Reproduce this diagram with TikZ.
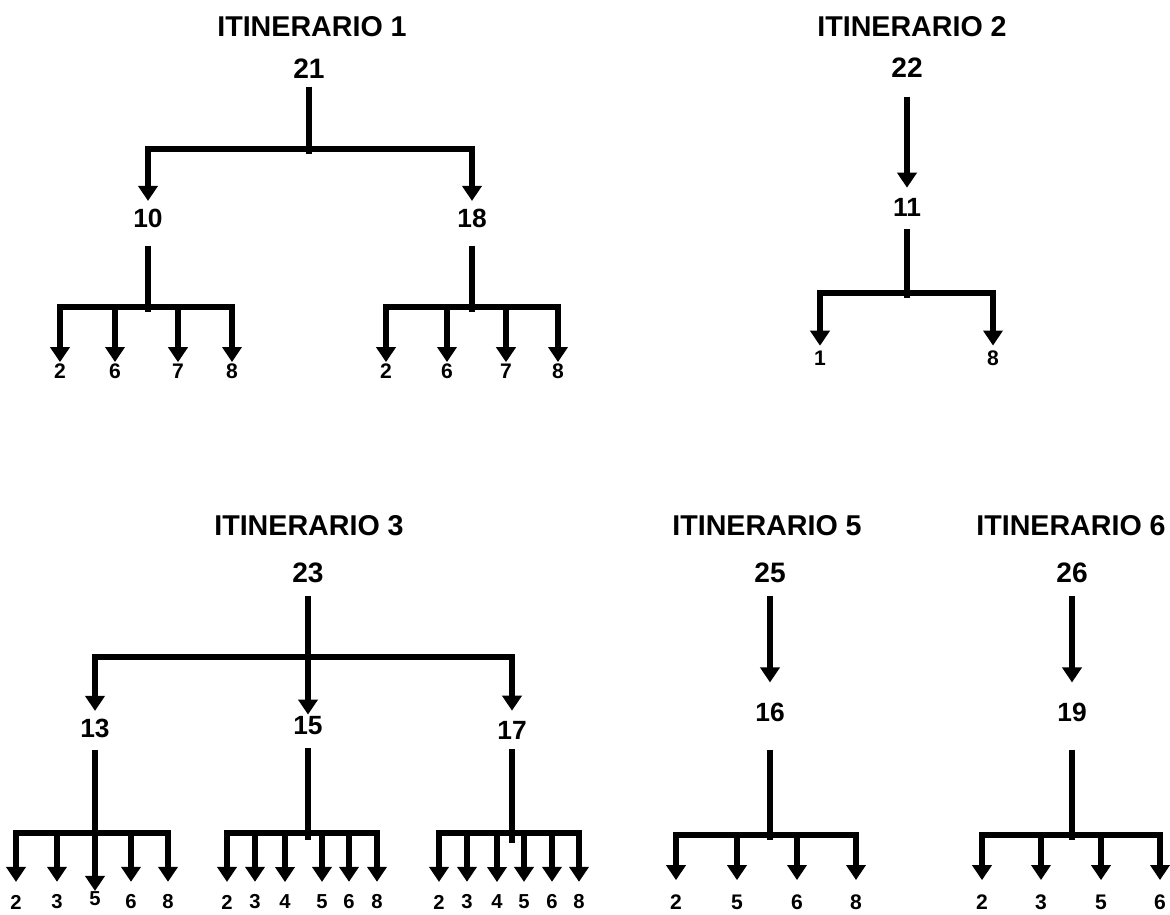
\documentclass[tikz,border=0pt]{standalone}
\usepackage{fontspec}
\setmainfont{Liberation Sans}
\usetikzlibrary{arrows.meta}

\begin{document}
\begin{tikzpicture}[>={Triangle[width=0.38cm,length=0.3cm]},x=0.02cm,y=-0.02cm,line width=3.2pt,
    title/.style={font=\bfseries\fontsize{16.3}{19}\selectfont},
    root/.style={font=\bfseries\fontsize{16}{19}\selectfont,inner sep=2.8pt},
    mid/.style={font=\bfseries\fontsize{15}{18}\selectfont,inner sep=2.8pt},
    leaf/.style={font=\bfseries\fontsize{12}{14}\selectfont,inner sep=0pt,outer sep=#1},
    small/.style={font=\bfseries\fontsize{11.5}{13}\selectfont}
    ]
\useasboundingbox (0,0) rectangle (1170,915);

\node[title] (t1) at (312,27) {ITINERARIO 1};
\node[root] (n21) at (309,69) {21};
\node[mid] (n10) at (148,218) {10};
\node[mid] (n18) at (472,218) {18};
\coordinate (j21) at (309,149);
\coordinate (j10) at (148,307);
\coordinate (j18) at (472,307);
\draw (n21) -- ([yshift=-0.1cm]j21);
\draw[->] (j21) -| (n10);
\draw[->] (j21) -| (n18);
\draw[shorten <=0.21cm] (n10) -- ([yshift=-0.1cm]j10);
\draw[shorten <=0.21cm] (n18) -- ([yshift=-0.1cm]j18);
\foreach \x/\t [count=\i] in {60/2,115/6,178/7,232/8}
    {\node[leaf=0.03cm] (a\i) at (\x,371) {\t}; \draw[->] (j10) -| (a\i);}
\foreach \x/\t [count=\i] in {386/2,447/6,506/7,558/8}
    {\node[leaf=0.03cm] (b\i) at (\x,371) {\t}; \draw[->] (j18) -| (b\i);}

\node[title] (t2) at (912,27) {ITINERARIO 2};
\node[root] (n22) at (907,68) {22};
\node[mid] (n11) at (907,207) {11};
\coordinate (j11) at (907,293);
\draw[->,shorten <=0.22cm,shorten >=0.05cm] (n22) -- (n11);
\draw[shorten <=0.11cm] (n11) -- ([yshift=-0.1cm]j11);
\node[leaf=0.1cm] (c1) at (820,358) {1};
\node[leaf=0.1cm] (c2) at (993,358) {8};
\draw[->] (j11) -| (c1);
\draw[->] (j11) -| (c2);

\node[title] (t3) at (309,526) {ITINERARIO 3};
\node[root] (n23) at (308,573) {23};
\node[mid] (n13) at (95,728) {13};
\node[mid] (n15) at (308,726) {15};
\node[mid] (n17) at (512,730) {17};
\coordinate (j23) at (308,657);
\draw[->,shorten <=0.1cm,shorten >=-0.11cm] (n23) -- (n15);
\draw[->] (j23) -| (n13);
\draw[->,shorten >=0.05cm] (j23) -| (n17);
\coordinate (j13) at (95,833);
\node[leaf=0.02cm,small] (d3) at (95,899) {5};
\draw[->,shorten <=0.09cm] (n13) -- (d3);
\foreach \x/\t/\i in {16/2/1,57/3/2,131/6/4,168/8/5}
    {\node[leaf=0.26cm,small] (d\i) at (\x,902) {\t}; \draw[->] (j13) -| (d\i);}
\coordinate (j15) at (308,833);
\draw[shorten <=0.1cm] (n15) -- ([yshift=-0.14cm]j15);
\foreach \x/\t [count=\i] in {227/2,255/3,285/4,322/5,349/6,377/8}
    {\node[leaf=0.26cm,small] (e\i) at (\x,902) {\t}; \draw[->] (j15) -| (e\i);}
\coordinate (j17) at (512,833);
\draw[shorten <=0.05cm] (n17) -- ([yshift=-0.2cm]j17);
\foreach \x/\t [count=\i] in {439/2,467/3,497/4,524/5,552/6,579/8}
    {\node[leaf=0.26cm,small] (f\i) at (\x,902) {\t}; \draw[->] (j17) -| (f\i);}

\node[title] (t5) at (767,526) {ITINERARIO 5};
\node[root] (n25) at (770,573) {25};
\node[mid] (n16) at (770,712) {16};
\coordinate (j16) at (770,835);
\draw[->,shorten <=0.1cm,shorten >=0.25cm] (n25) -- (n16);
\draw[shorten <=0.41cm] (n16) -- ([yshift=-0.1cm]j16);
\foreach \x/\t [count=\i] in {676/2,737/5,797/6,856/8}
    {\node[leaf=0.29cm] (g\i) at (\x,902) {\t}; \draw[->] (j16) -| (g\i);}

\node[title] (t6) at (1071,526) {ITINERARIO 6};
\node[root] (n26) at (1072,573) {26};
\node[mid] (n19) at (1072,712) {19};
\coordinate (j19) at (1072,835);
\draw[->,shorten <=0.1cm,shorten >=0.25cm] (n26) -- (n19);
\draw[shorten <=0.41cm] (n19) -- ([yshift=-0.1cm]j19);
\foreach \x/\t [count=\i] in {982/2,1041/3,1101/5,1160/6}
    {\node[leaf=0.29cm] (h\i) at (\x,902) {\t}; \draw[->] (j19) -| (h\i);}
\end{tikzpicture}
\end{document}
